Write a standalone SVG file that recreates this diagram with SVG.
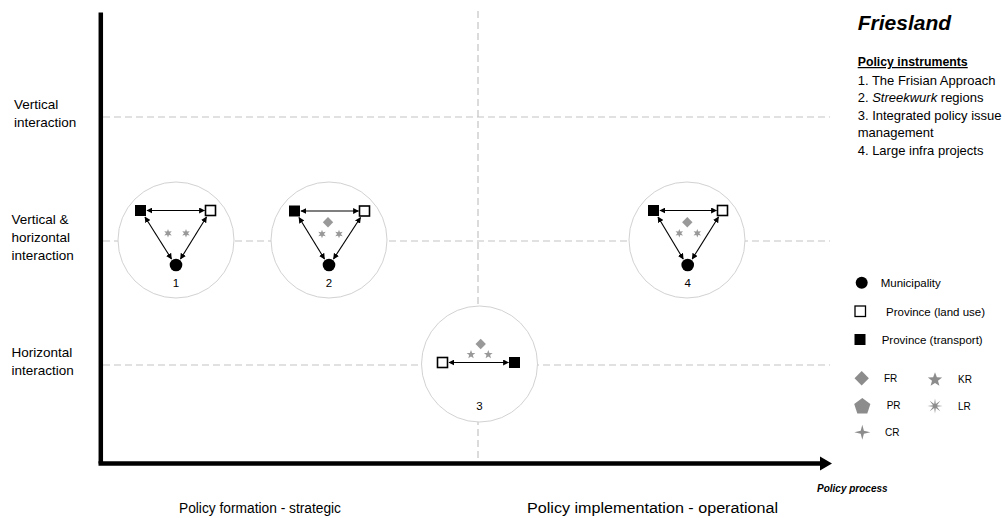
<svg xmlns="http://www.w3.org/2000/svg" xmlns:xlink="http://www.w3.org/1999/xlink" width="1005" height="518" viewBox="0 0 1005 518">
<style>
text{font-family:"Liberation Sans",Arial,sans-serif;fill:#000}
.dash{stroke:#c4c4c4;stroke-width:1.2;stroke-dasharray:7 4;fill:none}
.axis{stroke:#000;stroke-width:4.5;fill:none}
.ring{fill:#fff;stroke:#d2d2d2;stroke-width:1}
.bsq{fill:#000;stroke:#000;stroke-width:1}
.wsq{fill:#fff;stroke:#000;stroke-width:1.6}
.dot{fill:#000}
.g{fill:#999}
.gl{fill:#8c8c8c}
.link{stroke:#000;stroke-width:1.1;fill:none;marker-start:url(#ah);marker-end:url(#ah)}
.lbl{font-size:13.5px}
.num{font-size:11.5px;text-anchor:middle}
.leg{font-size:11.5px}
.legs{font-size:10px}
.list{font-size:13px}
</style>
<defs>
<marker id="ah" viewBox="0 0 10 10" refX="9" refY="5" markerWidth="6" markerHeight="6" markerUnits="userSpaceOnUse" orient="auto-start-reverse">
<path d="M0,0 L10,5 L0,10 Z" fill="#000"/>
</marker>
<path id="star5" d="M0,-1 L0.247,-0.34 L0.951,-0.309 L0.399,0.13 L0.588,0.809 L0,0.42 L-0.588,0.809 L-0.399,0.13 L-0.951,-0.309 L-0.247,-0.34 Z"/>
<path id="star6" d="M0,-1 L0.225,-0.39 L0.866,-0.5 L0.45,0 L0.866,0.5 L0.225,0.39 L0,1 L-0.225,0.39 L-0.866,0.5 L-0.45,0 L-0.866,-0.5 L-0.225,-0.39 Z"/>
<path id="star8" d="M0,-1 L0.107,-0.259 L0.707,-0.707 L0.259,-0.107 L1,0 L0.259,0.107 L0.707,0.707 L0.107,0.259 L0,1 L-0.107,0.259 L-0.707,0.707 L-0.259,0.107 L-1,0 L-0.259,-0.107 L-0.707,-0.707 L-0.107,-0.259 Z"/>
<path id="star4" d="M0,-1 L0.2,-0.2 L1,0 L0.2,0.2 L0,1 L-0.2,0.2 L-1,0 L-0.2,-0.2 Z"/>
<path id="diam" d="M0,-1 L1,0 L0,1 L-1,0 Z"/>
<path id="pent" d="M0,-1 L0.951,-0.309 L0.588,0.809 L-0.588,0.809 L-0.951,-0.309 Z"/>
</defs>

<g id="grid">
<line class="dash" x1="103" y1="117" x2="830" y2="117"/>
<line class="dash" x1="103" y1="241" x2="830" y2="241"/>
<line class="dash" x1="103" y1="365" x2="830" y2="365"/>
<line class="dash" x1="478" y1="11" x2="478" y2="461"/>
</g>

<g id="axes">
<line class="axis" x1="100.8" y1="12.5" x2="100.8" y2="463.5"/>
<line class="axis" x1="98.5" y1="463.5" x2="823" y2="463.5"/>
<polygon points="820,456.5 832,463.5 820,470.5" fill="#000"/>
<text x="817" y="491.5" style="font-size:10px;font-weight:bold;font-style:italic">Policy process</text>
</g>

<g id="row-labels">
<text class="lbl" x="14" y="109">Vertical</text>
<text class="lbl" x="14" y="127">interaction</text>
<text class="lbl" x="11.5" y="224">Vertical &amp;</text>
<text class="lbl" x="11.5" y="242">horizontal</text>
<text class="lbl" x="11.5" y="260">interaction</text>
<text class="lbl" x="11.5" y="357">Horizontal</text>
<text class="lbl" x="11.5" y="375">interaction</text>
</g>

<g id="phase-labels">
<text x="179" y="513" style="font-size:14px" textLength="162" lengthAdjust="spacingAndGlyphs">Policy formation - strategic</text>
<text x="527" y="513" style="font-size:15.5px" textLength="251" lengthAdjust="spacingAndGlyphs">Policy implementation - operational</text>
</g>

<g id="node-1">
<circle class="ring" cx="176" cy="240" r="58"/>
<use href="#star6" class="g" transform="translate(168,233.3) scale(4.3)"/>
<use href="#star6" class="g" transform="translate(186,233.3) scale(4.3)"/>
<rect class="bsq" x="135.5" y="205.5" width="10" height="10"/>
<rect class="wsq" x="205.5" y="205.5" width="10" height="10"/>
<circle class="dot" cx="176" cy="265" r="6.3"/>
<text class="num" x="176" y="287">1</text>
</g>

<g id="node-2">
<circle class="ring" cx="329" cy="240" r="58"/>
<use href="#diam" class="g" transform="translate(328,222.3) scale(5.2)"/>
<use href="#star6" class="g" transform="translate(322,234) scale(4.3)"/>
<use href="#star6" class="g" transform="translate(339,234) scale(4.3)"/>
<rect class="bsq" x="289.5" y="206" width="10" height="10"/>
<rect class="wsq" x="359.5" y="206" width="10" height="10"/>
<circle class="dot" cx="329" cy="265" r="6.3"/>
<text class="num" x="329" y="287">2</text>
</g>

<g id="node-3">
<circle class="ring" cx="479.5" cy="364" r="58"/>
<use href="#diam" class="g" transform="translate(480.7,344) scale(5.2)"/>
<use href="#star5" class="g" transform="translate(471,354.5) scale(4.6)"/>
<use href="#star5" class="g" transform="translate(488.3,354.5) scale(4.6)"/>
<rect class="wsq" x="437.5" y="357.5" width="10" height="10"/>
<rect class="bsq" x="509.5" y="357.5" width="10" height="10"/>
<text class="num" x="479.5" y="410">3</text>
</g>

<g id="node-4">
<circle class="ring" cx="687" cy="240" r="58"/>
<use href="#diam" class="g" transform="translate(687.3,222.3) scale(5.2)"/>
<use href="#star6" class="g" transform="translate(679.3,233.3) scale(4.3)"/>
<use href="#star6" class="g" transform="translate(697.3,233.3) scale(4.3)"/>
<rect class="bsq" x="648.5" y="205.5" width="10" height="10"/>
<rect class="wsq" x="717.5" y="205.5" width="10" height="10"/>
<circle class="dot" cx="687.7" cy="265" r="6.3"/>
<text class="num" x="687.7" y="287">4</text>
</g>

<g id="connectors">
<line class="link" x1="147" y1="210.5" x2="204.5" y2="210.5"/>
<line class="link" x1="145" y1="217" x2="171.5" y2="259"/>
<line class="link" x1="206.5" y1="217" x2="180.5" y2="259"/>

<line class="link" x1="301" y1="211" x2="358.5" y2="211"/>
<line class="link" x1="299" y1="217.5" x2="324.5" y2="259"/>
<line class="link" x1="360.5" y1="217.5" x2="333.5" y2="259"/>

<line class="link" x1="449" y1="362.5" x2="508.5" y2="362.5"/>

<line class="link" x1="660" y1="210.5" x2="716.5" y2="210.5"/>
<line class="link" x1="658" y1="217" x2="683.2" y2="259"/>
<line class="link" x1="718.5" y1="217" x2="692.2" y2="259"/>
</g>

<g id="title">
<text x="857.7" y="30" style="font-size:21px;font-weight:bold;font-style:italic">Friesland</text>
<text x="857.7" y="66" style="font-size:12.3px;font-weight:bold;text-decoration:underline">Policy instruments</text>
<text class="list" x="857.7" y="84.5">1. The Frisian Approach</text>
<text class="list" x="857.7" y="102">2. <tspan font-style="italic">Streekwurk</tspan> regions</text>
<text class="list" x="857.7" y="119.5">3. Integrated policy issue</text>
<text class="list" x="857.7" y="137">management</text>
<text class="list" x="857.7" y="154.5">4. Large infra projects</text>
</g>

<g id="legend">
<circle cx="861.7" cy="282.7" r="6"/>
<text class="leg" x="880.7" y="286.5">Municipality</text>
<rect x="855" y="306" width="10.5" height="10.5" fill="#fff" stroke="#000" stroke-width="1.3"/>
<text class="leg" x="886" y="315.5">Province (land use)</text>
<rect x="854.5" y="334" width="11" height="11" fill="#000"/>
<text class="leg" x="881.7" y="344">Province (transport)</text>
<use href="#diam" class="gl" transform="translate(861.7,378.3) scale(7.2)"/>
<text class="legs" x="884" y="382">FR</text>
<use href="#pent" class="gl" transform="translate(862.3,406.6) scale(8.5)"/>
<text class="legs" x="886.7" y="409">PR</text>
<use href="#star4" class="gl" transform="translate(862.3,432.3) scale(8,7.5)"/>
<text class="legs" x="885" y="436">CR</text>
<use href="#star5" class="gl" transform="translate(935,379.8) scale(7.5)"/>
<text class="legs" x="958" y="383">KR</text>
<use href="#star8" class="gl" transform="translate(935,406) scale(7.5)"/>
<text class="legs" x="958" y="409.5">LR</text>
</g>
</svg>
